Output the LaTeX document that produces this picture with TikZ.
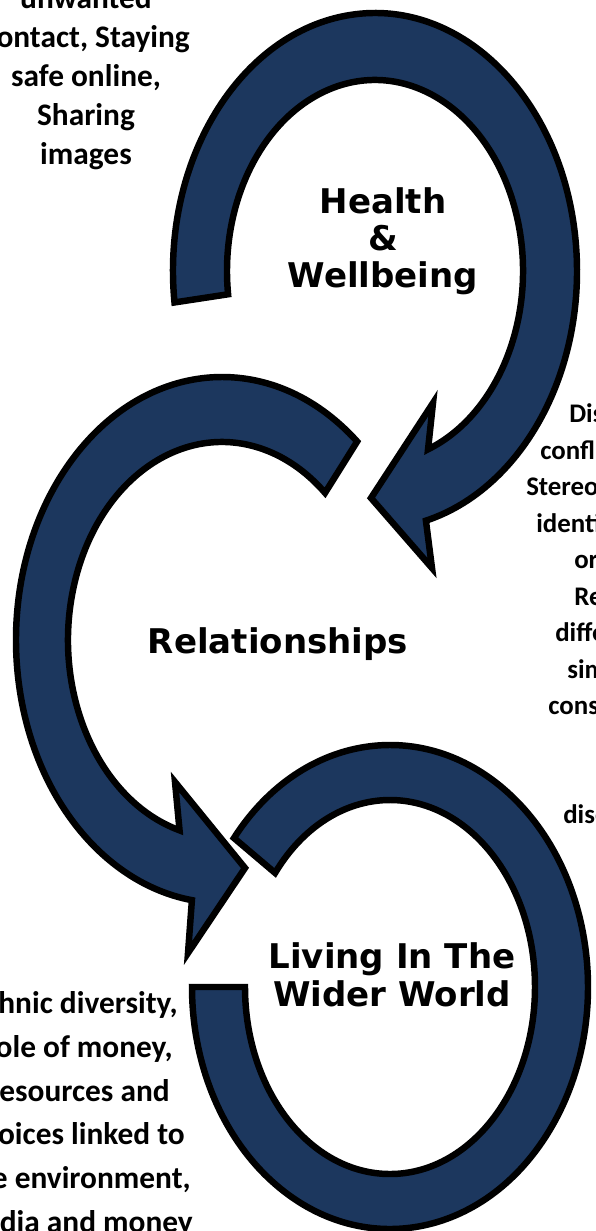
\documentclass[tikz,border=0pt]{standalone}
\usepackage{fontspec}
\usepackage{tikz}
\usetikzlibrary{calc,shadows}
\newfontfamily\topicfont{DejaVu Sans}
\newfontfamily\notefont{Carlito}
\definecolor{loopblue}{RGB}{28,55,94}
\tikzset{
	looparrow/.style={fill=loopblue, draw=black, line width=4.6pt, line join=miter,
		drop shadow={shadow xshift=-1.2pt, shadow yshift=-1.8pt, opacity=0.25}},
	topictext/.style={font=\topicfont\bfseries\fontsize{24.2}{26}\selectfont, inner sep=0pt, anchor=base},
	notetext/.style={font=\notefont\bfseries\fontsize{22.3}{27}\selectfont, inner sep=0pt, anchor=base},
	sidetext/.style={font=\notefont\bfseries\fontsize{19.1}{26}\selectfont, inner sep=0pt, anchor=base west}
}

\begin{document}
\begin{tikzpicture}[x=0.025cm, y=0.025cm]
	\useasboundingbox (0,0) rectangle (596,-1231);
	% centres
	\coordinate (hwc) at (375,-271);
	\coordinate (relc) at (222,-640);
	\coordinate (wwc) at (390,-987);

	%Health & Wellbeing
	\path[looparrow] ($(hwc)+(187:202 and 258)$) arc[start angle=187, end angle=-75.4, x radius=202, y radius=258]
		-- (432,-568) -- (371,-498) -- (433,-403)
		-- ($(hwc)+(-69:148 and 191)$) arc[start angle=-69, end angle=187, x radius=148, y radius=191] -- cycle;

	%Relationships
	\path[looparrow] ($(relc)+(49:206 and 263)$) arc[start angle=49, end angle=261.6, x radius=206, y radius=263]
		-- (188,-953) -- (245,-868) -- (175,-782)
		-- ($(relc)+(254:154 and 198)$) arc[start angle=254, end angle=48, x radius=154, y radius=198] -- cycle;

	%Living In The Wider World
	\path[looparrow] ($(wwc)+(142:198 and 242)$) arc[start angle=142, end angle=-180, x radius=198, y radius=242]
		-- ($(wwc)+(180:145 and 187)$) arc[start angle=-180, end angle=142.4, x radius=145, y radius=187] -- cycle;

	% topics
	\node[topictext] (hw1) at (383,-213) {Health};
	\node[topictext] (hw2) at (383,-250) {\&};
	\node[topictext] (hw3) at (383,-287) {Wellbeing};
	\node[topictext] (rel) at (278,-653) {Relationships};
	\node[topictext] (ww1) at (392,-968) {Living In The};
	\node[topictext] (ww2) at (392,-1006) {Wider World};

	% top left
	\node[notetext] (hwn1) at (86,-8) {unwanted};
	\node[notetext, anchor=base east] (hwn2) at (190,-47) {ontact, Staying};
	\node[notetext] (hwn3) at (86,-86) {safe online,};
	\node[notetext] (hwn4) at (86,-125) {Sharing};
	\node[notetext] (hwn5) at (86,-164) {images};

	% right
	\node[sidetext] (reln1) at (569,-422) {Dis};
	\node[sidetext] (reln2) at (540,-459) {confl};
	\node[sidetext] (reln3) at (526,-495) {Stereo};
	\node[sidetext] (reln4) at (536,-532) {identi};
	\node[sidetext] (reln5) at (574,-568) {or};
	\node[sidetext] (reln6) at (574,-605) {Re};
	\node[sidetext] (reln7) at (555,-641) {diffe};
	\node[sidetext] (reln8) at (567,-678) {sim};
	\node[sidetext] (reln9) at (548,-714) {cons};
	\node[sidetext] (reln10) at (563,-823) {disc};

	% bottom left
	\node[notetext, anchor=base east] (wwn1) at (178,-1013) {hnic diversity,};
	\node[notetext, anchor=base east] (wwn2) at (173,-1057) {ole of money,};
	\node[notetext, anchor=base east] (wwn3) at (170,-1101) {esources and};
	\node[notetext, anchor=base east] (wwn4) at (185,-1144) {oices linked to};
	\node[notetext, anchor=base east] (wwn5) at (191,-1188) {e environment,};
	\node[notetext, anchor=base east] (wwn6) at (193,-1232) {dia and money};
\end{tikzpicture}
\end{document}
